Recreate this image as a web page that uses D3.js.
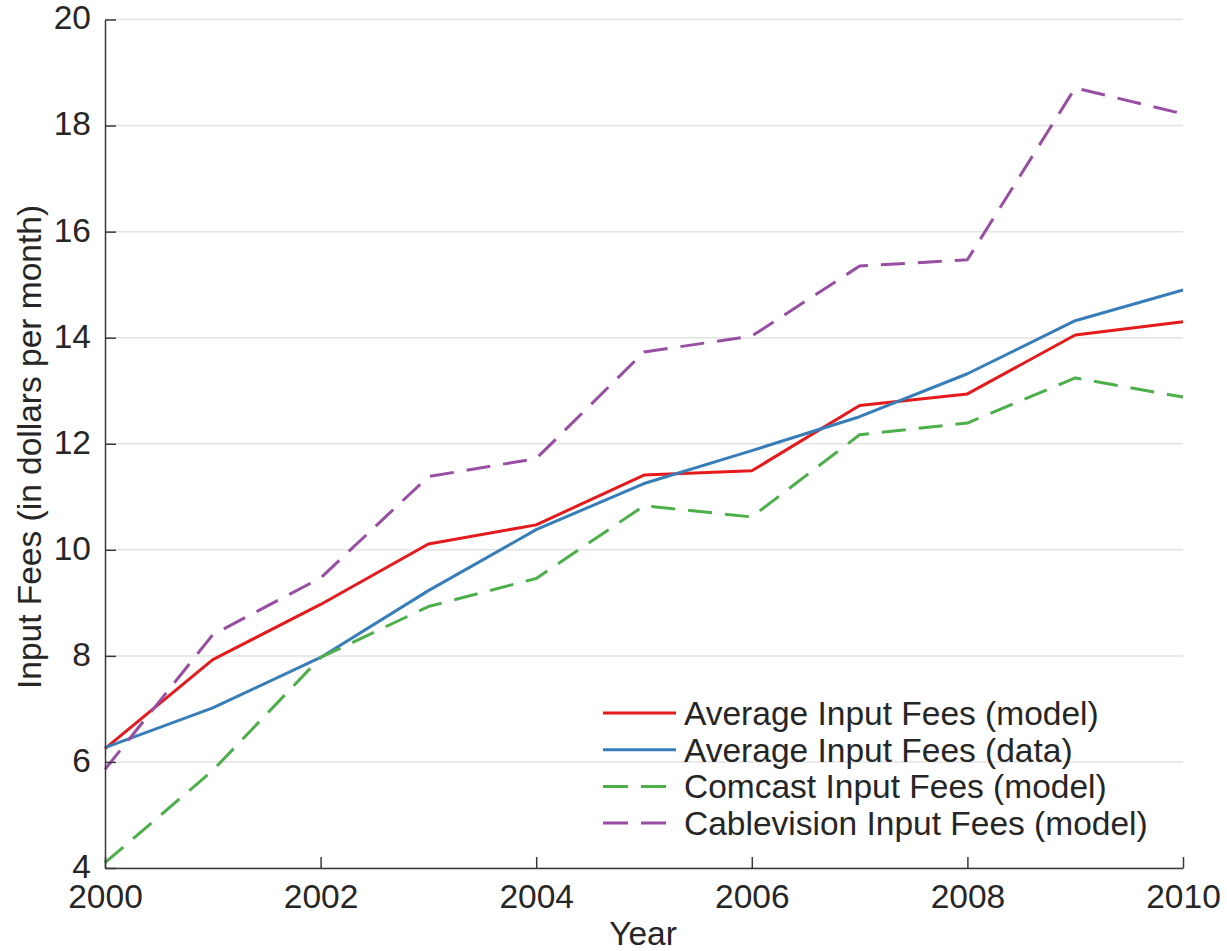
<!DOCTYPE html>
<html>
<head>
<meta charset="utf-8">
<script src="https://cdn.jsdelivr.net/npm/d3@7"></script>
<style>
  body { margin: 0; background: #fff; }
  svg text { font-family: "Liberation Sans", Arial, Helvetica, sans-serif; fill: #262626; }
</style>
</head>
<body>
<svg id="chart" width="1227" height="951"></svg>
<script>
const years = [2000, 2001, 2002, 2003, 2004, 2005, 2006, 2007, 2008, 2009, 2010];
const avgModel = [6.25, 7.93, 8.97, 10.11, 10.47, 11.41, 11.49, 12.72, 12.94, 14.05, 14.30];
const avgData = [6.27, 7.02, 7.97, 9.23, 10.38, 11.25, 11.87, 12.51, 13.32, 14.32, 14.90];
const comcast = [4.10, 5.84, 7.97, 8.93, 9.46, 10.83, 10.62, 12.17, 12.39, 13.24, 12.88];
const cablevision = [5.86, 8.40, 9.47, 11.38, 11.72, 13.73, 14.03, 15.35, 15.47, 18.71, 18.22];
const xTicks = [2000, 2002, 2004, 2006, 2008, 2010];
const yTicks = [4, 6, 8, 10, 12, 14, 16, 18, 20];

const series = [
  { name: 'Average Input Fees (model)', values: avgModel, color: '#e41a1c', dash: null },
  { name: 'Average Input Fees (data)', values: avgData, color: '#377eb8', dash: null },
  { name: 'Comcast Input Fees (model)', values: comcast, color: '#4daf4a', dash: '24,13' },
  { name: 'Cablevision Input Fees (model)', values: cablevision, color: '#984ea3', dash: '24,13' }
];

const svg = d3.select('#chart');
const plotL = 105, plotR = 1183, plotT = 19.5, plotB = 868;
const fontSize = '33.5px';

const x = d3.scaleLinear().domain([2000, 2010]).range([plotL, plotR]);
const y = d3.scaleLinear().domain([4, 20]).range([plotB, plotT]);

// horizontal grid
svg.append('g')
  .selectAll('line')
  .data(yTicks)
  .join('line')
  .attr('x1', plotL)
  .attr('x2', plotR)
  .attr('y1', d => y(d))
  .attr('y2', d => y(d))
  .style('stroke', '#e3e3e3')
  .style('stroke-width', 1.5);

// lines
const line = d3.line()
  .x((d, i) => x(years[i]))
  .y(d => y(d));

svg.append('g')
  .selectAll('path')
  .data(series)
  .join('path')
  .attr('d', d => line(d.values))
  .style('fill', 'none')
  .style('stroke', d => d.color)
  .style('stroke-width', 3)
  .style('stroke-dasharray', d => d.dash)
  .style('stroke-linejoin', 'round');

// axes
const yAxis = svg.append('g')
  .attr('transform', `translate(${plotL},0)`)
  .call(d3.axisLeft(y).tickValues(yTicks).tickSizeInner(-11).tickSizeOuter(0).tickPadding(14));
const xAxis = svg.append('g')
  .attr('transform', `translate(0,${plotB})`)
  .call(d3.axisBottom(x).tickValues(xTicks).tickFormat(d3.format('d')).tickSizeInner(-11).tickSizeOuter(0).tickPadding(16));

[yAxis, xAxis].forEach(a => {
  a.select('.domain').style('stroke', '#3a3a3a').style('stroke-width', 1.5);
  a.selectAll('.tick line').style('stroke', '#3a3a3a').style('stroke-width', 1.5);
  a.selectAll('.tick text').style('font-size', fontSize).style('fill', '#262626');
});
yAxis.selectAll('.tick text').attr('dy', '0.28em');
xAxis.selectAll('.tick text').attr('dy', '0.72em');

// axis titles
svg.append('text')
  .attr('transform', 'translate(41,447) rotate(-90)')
  .attr('text-anchor', 'middle')
  .style('font-size', fontSize)
  .text('Input Fees (in dollars per month)');

svg.append('text')
  .attr('x', 643)
  .attr('y', 945)
  .attr('text-anchor', 'middle')
  .style('font-size', fontSize)
  .text('Year');

// legend
const legend = svg.append('g');
const rows = legend.selectAll('g')
  .data(series)
  .join('g')
  .attr('transform', (d, i) => `translate(603,${713 + i * 36.7})`);

rows.append('line')
  .attr('x1', 0)
  .attr('x2', 73)
  .style('stroke', d => d.color)
  .style('stroke-width', 3)
  .style('stroke-dasharray', d => d.dash ? '25,13' : null);

rows.append('text')
  .attr('x', 81)
  .attr('y', 12)
  .style('font-size', fontSize)
  .text(d => d.name);
</script>
</body>
</html>
